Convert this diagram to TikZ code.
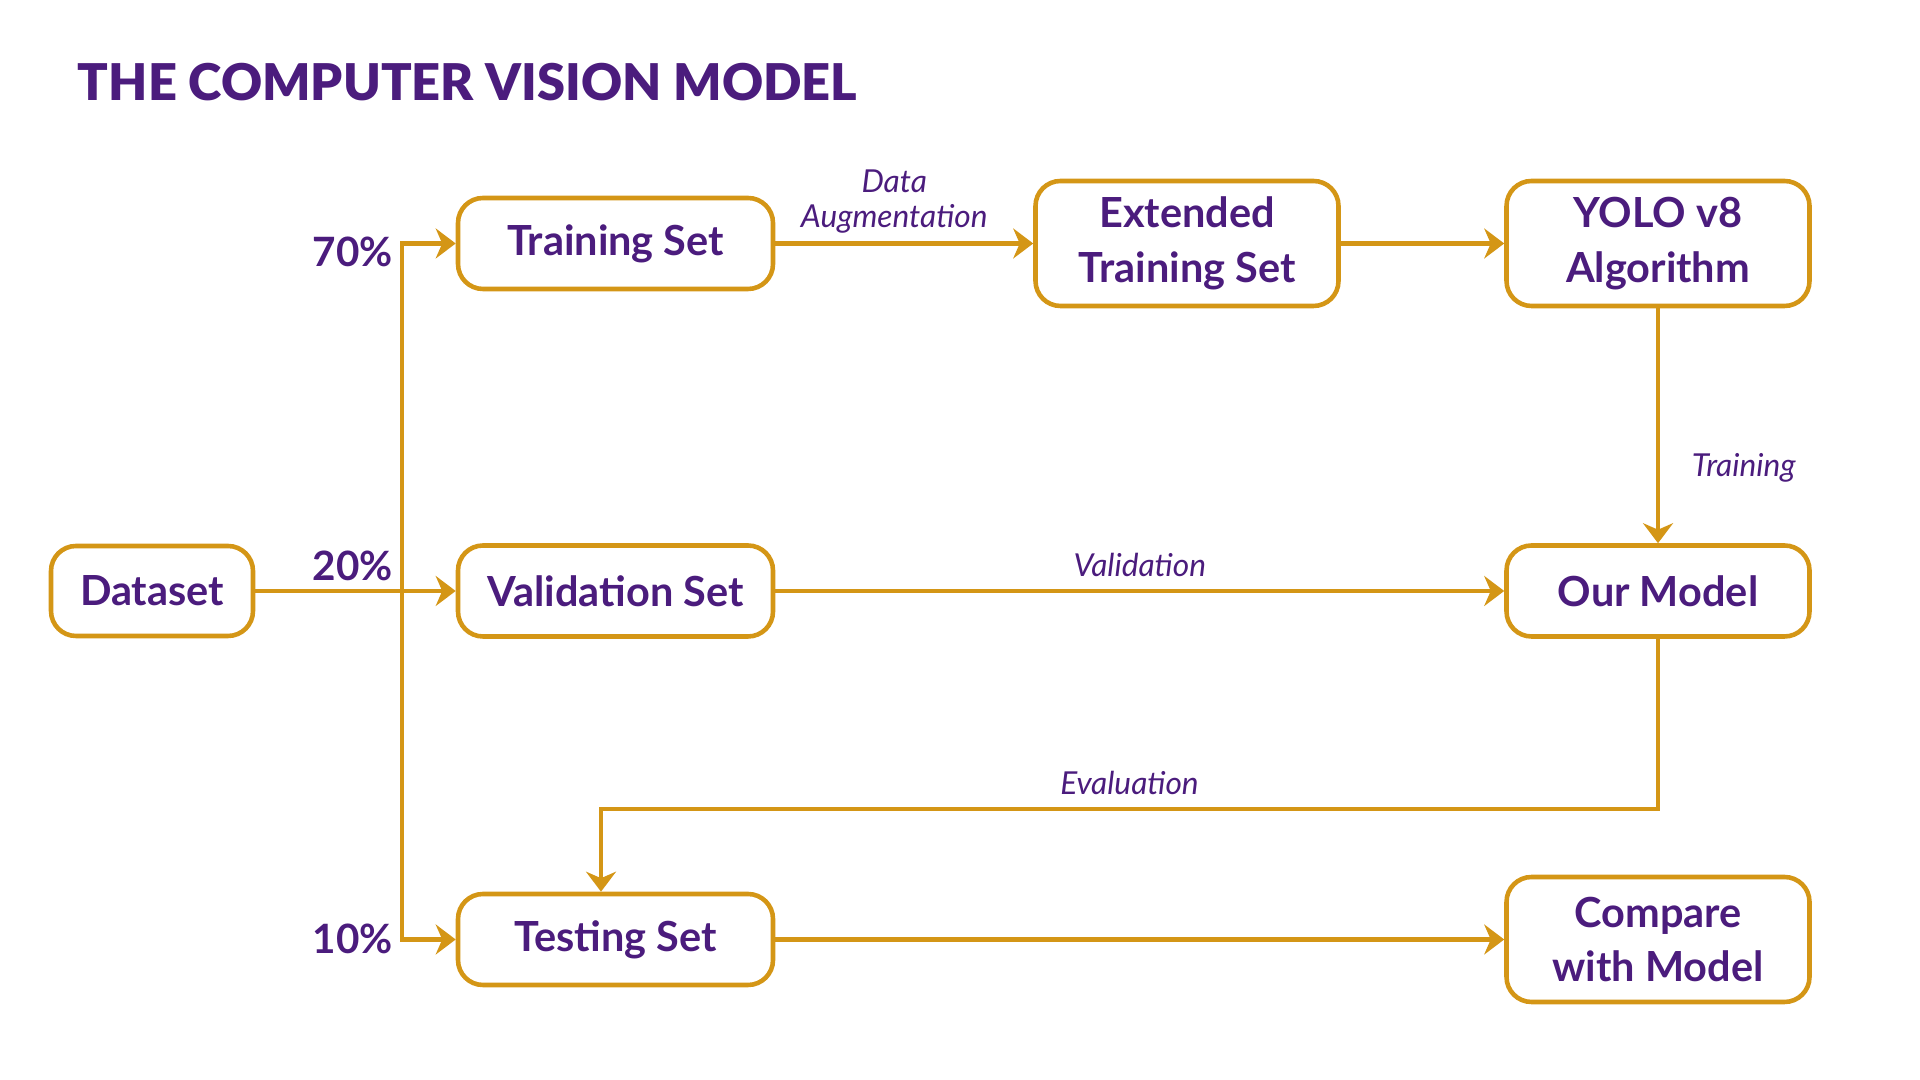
\documentclass[tikz,border=0pt]{standalone}
\usepackage{fontspec}
\setmainfont{Lato}
\newfontfamily\titlefont{Lato Black}
\usetikzlibrary{arrows.meta,positioning}
\definecolor{vpurple}{RGB}{75,28,125}
\definecolor{vgold}{RGB}{212,150,22}

\begin{document}
\begin{tikzpicture}[>={Stealth[length=2mm,width=3mm]},line width=1.1pt]

	\tikzstyle{setbox}=[rectangle,rounded corners=0.25cm,draw=vgold,line width=1.3pt,fill=white,text=vpurple,font=\fontsize{11.8}{15.6}\selectfont\bfseries,align=center,minimum width=3.15cm,minimum height=0.91cm,inner sep=0pt]
	\tikzstyle{bigbox}=[setbox,minimum width=3.03cm,minimum height=1.25cm]
	\tikzstyle{flow}=[->,draw=vgold,line width=1.2pt]
	\tikzstyle{tag}=[text=vpurple,font=\fontsize{9}{10}\selectfont\itshape]
	\tikzstyle{pct}=[text=vpurple,font=\fontsize{11.5}{13}\selectfont\bfseries]

	\useasboundingbox (0,0) rectangle (19.2,10.8);

	\node [anchor=west,inner sep=0pt,text=vpurple,font=\titlefont\fontsize{14.4}{17}\selectfont] (title) at (0.76,9.98) {THE COMPUTER VISION MODEL};

	\node [setbox,minimum width=2.02cm,minimum height=0.9cm] (dataset) at (1.52,4.89) {Dataset};
	\node [setbox] (train) at (6.155,8.365) {Training Set};
	\node [setbox] (valid) at (6.155,4.89) {Validation Set};
	\node [setbox] (test) at (6.155,1.405) {Testing Set};
	\node [bigbox] (ext) at (11.87,8.365) {Extended\\Training Set};
	\node [bigbox] (yolo) at (16.58,8.365) {YOLO v8\\Algorithm};
	\node [setbox,minimum width=3.03cm] (model) at (16.58,4.89) {Our Model};
	\node [bigbox] (compare) at (16.58,1.405) {Compare\\with Model};

	\coordinate (split) at (4.02,4.89);
	\coordinate (evalturn) at (6.01,2.71);

	\node [pct] (p70) at (3.53,8.28) {70\%};
	\node [pct] (p20) at (3.53,5.14) {20\%};
	\node [pct] (p10) at (3.53,1.41) {10\%};

	\draw [flow] (dataset) -- (valid);
	\draw [flow] (split) |- (train);
	\draw [flow] (split) |- (test);
	\draw [flow] (train) -- node [tag,above,align=center,xshift=-0.1cm,yshift=-0.04cm] {Data\\Augmentation} (ext);
	\draw [flow] (ext) -- (yolo);
	\draw [flow] (yolo) -- node [tag,right,pos=0.68,xshift=0.2cm] {Training} (model);
	\draw [flow] (valid) -- node [tag,above] {Validation} (model);
	\draw [flow] (model.south) -- (model.south |- evalturn)
		-- node [tag,above] {Evaluation} (evalturn) -- (evalturn |- test.north);
	\draw [flow] (test) -- (compare);
\end{tikzpicture}
\end{document}
